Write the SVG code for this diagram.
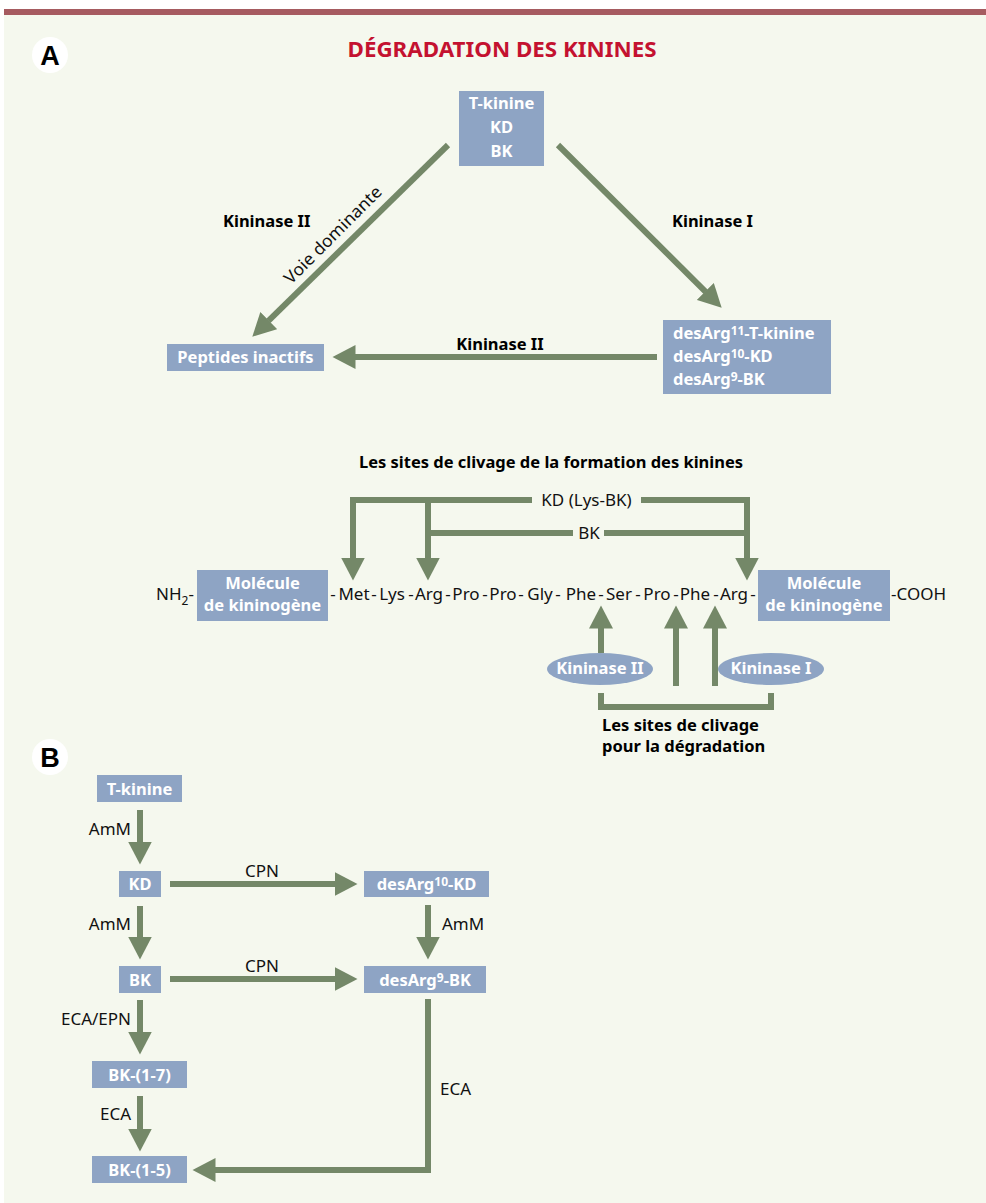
<svg xmlns="http://www.w3.org/2000/svg" width="986" height="1203" viewBox="0 0 986 1203">
<defs>
<marker id="ah" markerUnits="userSpaceOnUse" markerWidth="24" markerHeight="24" viewBox="0 0 24 24" refX="0.5" refY="12" orient="auto"><path d="M0,0 L23,12 L0,24 z" fill="#748868"/></marker>
</defs>
<style>
.box{fill:#8ea4c4}
.bt{font-family:"Noto Sans",sans-serif;font-weight:bold;font-size:16.5px;fill:#fff}
.lb{font-family:"Noto Sans",sans-serif;font-weight:bold;font-size:16.5px;fill:#000}
.nt{font-family:"Noto Sans",sans-serif;font-size:17px;fill:#111}
.ln{fill:none;stroke:#748868;stroke-width:6}
.ar{marker-end:url(#ah)}
.mid{text-anchor:middle}
.end{text-anchor:end}
.let{font-family:"Liberation Sans",sans-serif;font-weight:bold;font-size:27px;fill:#000;text-anchor:middle}
</style>
<rect x="0" y="0" width="986" height="1203" fill="#ffffff"/>
<rect x="4" y="15" width="982" height="1188" fill="#f5f8ee"/>
<rect x="4" y="9" width="982" height="6" fill="#a65b60"/>

<g id="labelA"><circle cx="50" cy="55" r="18" fill="#fff"/><text class="let" x="50" y="65">A</text></g>
<g id="title"><text x="502" y="57" class="mid" font-family="Noto Sans, sans-serif" font-weight="bold" font-size="21" fill="#c41230" textLength="309" lengthAdjust="spacingAndGlyphs">DÉGRADATION DES KININES</text></g>

<g id="connectors">
  <path class="ln ar" d="M448,145 L268.4,320.9"/>
  <path class="ln ar" d="M558,145 L705.7,291.8"/>
  <path class="ln ar" d="M657,357 H355"/>
  <path class="ln ar" d="M532,500 H353 V558"/>
  <path class="ln ar" d="M641,500 H747 V558"/>
  <path class="ln ar" d="M428,500 V558"/>
  <path class="ln" d="M428,533 H573"/>
  <path class="ln" d="M604,533 H747"/>
  <path class="ln ar" d="M601,653 V628"/>
  <path class="ln ar" d="M676,686 V628"/>
  <path class="ln ar" d="M715,686 V628"/>
  <path class="ln" d="M601,693 V707 H771 V693"/>
  <path class="ln ar" d="M140,810 V842"/>
  <path class="ln ar" d="M140,906 V937"/>
  <path class="ln ar" d="M140,1000 V1032"/>
  <path class="ln ar" d="M140,1096 V1129"/>
  <path class="ln ar" d="M170,884 H335"/>
  <path class="ln ar" d="M170,979 H335"/>
  <path class="ln ar" d="M428,905 V937"/>
  <path class="ln ar" d="M428,999 V1170 H215"/>
</g>

<g id="edge-labels">
  <text class="lb" x="223" y="227">Kininase II</text>
  <text class="lb" x="672" y="227">Kininase I</text>
  <text class="nt mid" x="337" y="239" transform="rotate(-45 337 239)" textLength="130" lengthAdjust="spacingAndGlyphs">Voie dominante</text>
  <text class="lb mid" x="500" y="350">Kininase II</text>
  <text class="nt mid" x="586.5" y="506">KD (Lys-BK)</text>
  <text class="nt mid" x="589" y="539">BK</text>
  <text class="nt end" x="131" y="835">AmM</text>
  <text class="nt end" x="131" y="930">AmM</text>
  <text class="nt end" x="131" y="1025">ECA/EPN</text>
  <text class="nt end" x="131" y="1120">ECA</text>
  <text class="nt mid" x="262" y="877">CPN</text>
  <text class="nt mid" x="262" y="972">CPN</text>
  <text class="nt" x="442" y="930">AmM</text>
  <text class="nt" x="440" y="1095">ECA</text>
</g>

<g id="n-top"><rect class="box" x="459" y="91" width="85" height="75"/>
  <text class="bt mid" x="501.5" y="109">T-kinine</text>
  <text class="bt mid" x="501.5" y="133">KD</text>
  <text class="bt mid" x="501.5" y="157">BK</text></g>
<g id="n-peptides"><rect class="box" x="167" y="344" width="157" height="27"/>
  <text class="bt mid" x="245.5" y="363">Peptides inactifs</text></g>
<g id="n-desarg"><rect class="box" x="663" y="320" width="168" height="74"/>
  <text class="bt" x="673" y="339">desArg<tspan font-size="12" dy="-4">11</tspan><tspan dy="4">-T-kinine</tspan></text>
  <text class="bt" x="673" y="362">desArg<tspan font-size="12" dy="-4">10</tspan><tspan dy="4">-KD</tspan></text>
  <text class="bt" x="673" y="385">desArg<tspan font-size="12" dy="-4">9</tspan><tspan dy="4">-BK</tspan></text></g>

<g id="formation-title"><text class="lb mid" x="551" y="468" textLength="384" lengthAdjust="spacingAndGlyphs">Les sites de clivage de la formation des kinines</text></g>

<g id="sequence">
  <text class="nt" x="156" y="600">NH<tspan font-size="12" dy="5">2</tspan><tspan dy="-5">-</tspan></text>
  <text class="nt mid" y="600"><tspan x="333">-</tspan><tspan x="354">Met</tspan><tspan x="374">-</tspan><tspan x="392">Lys</tspan><tspan x="411">-</tspan><tspan x="429">Arg</tspan><tspan x="448">-</tspan><tspan x="466">Pro</tspan><tspan x="485">-</tspan><tspan x="503">Pro</tspan><tspan x="521">-</tspan><tspan x="540">Gly</tspan><tspan x="558">-</tspan><tspan x="581">Phe</tspan><tspan x="601">-</tspan><tspan x="619">Ser</tspan><tspan x="638">-</tspan><tspan x="657">Pro</tspan><tspan x="676">-</tspan><tspan x="695">Phe</tspan><tspan x="716">-</tspan><tspan x="734">Arg</tspan><tspan x="753">-</tspan></text>
  <text class="nt" x="891" y="600">-COOH</text>
</g>
<g id="n-mol-left"><rect class="box" x="197" y="570" width="131" height="51"/>
  <text class="bt mid" x="262.5" y="589">Molécule</text>
  <text class="bt mid" x="262.5" y="611">de kininogène</text></g>
<g id="n-mol-right"><rect class="box" x="758" y="570" width="132" height="51"/>
  <text class="bt mid" x="824" y="589">Molécule</text>
  <text class="bt mid" x="824" y="611">de kininogène</text></g>
<g id="n-kin2"><ellipse class="box" cx="600" cy="669" rx="53" ry="16"/>
  <text class="bt mid" x="600" y="674">Kininase II</text></g>
<g id="n-kin1"><ellipse class="box" cx="771" cy="669" rx="53" ry="16"/>
  <text class="bt mid" x="771" y="674">Kininase I</text></g>
<g id="degradation-label">
  <text class="lb" x="602" y="731">Les sites de clivage</text>
  <text class="lb" x="602" y="752">pour la dégradation</text></g>

<g id="labelB"><circle cx="50" cy="757" r="18" fill="#fff"/><text class="let" x="50" y="767">B</text></g>
<g id="b-tkinine"><rect class="box" x="97" y="775" width="85" height="27"/><text class="bt mid" x="139.5" y="795">T-kinine</text></g>
<g id="b-kd"><rect class="box" x="119" y="871" width="42" height="26"/><text class="bt mid" x="140" y="890">KD</text></g>
<g id="b-bk"><rect class="box" x="119" y="966" width="42" height="27"/><text class="bt mid" x="140" y="986">BK</text></g>
<g id="b-desarg10"><rect class="box" x="364" y="871" width="125" height="26"/><text class="bt mid" x="426.5" y="890">desArg<tspan font-size="12" dy="-4">10</tspan><tspan dy="4">-KD</tspan></text></g>
<g id="b-desarg9"><rect class="box" x="364" y="966" width="122" height="27"/><text class="bt mid" x="425" y="986">desArg<tspan font-size="12" dy="-4">9</tspan><tspan dy="4">-BK</tspan></text></g>
<g id="b-bk17"><rect class="box" x="92" y="1061" width="95" height="27"/><text class="bt mid" x="139.5" y="1081">BK-(1-7)</text></g>
<g id="b-bk15"><rect class="box" x="92" y="1156" width="95" height="27"/><text class="bt mid" x="139.5" y="1176">BK-(1-5)</text></g>
</svg>
